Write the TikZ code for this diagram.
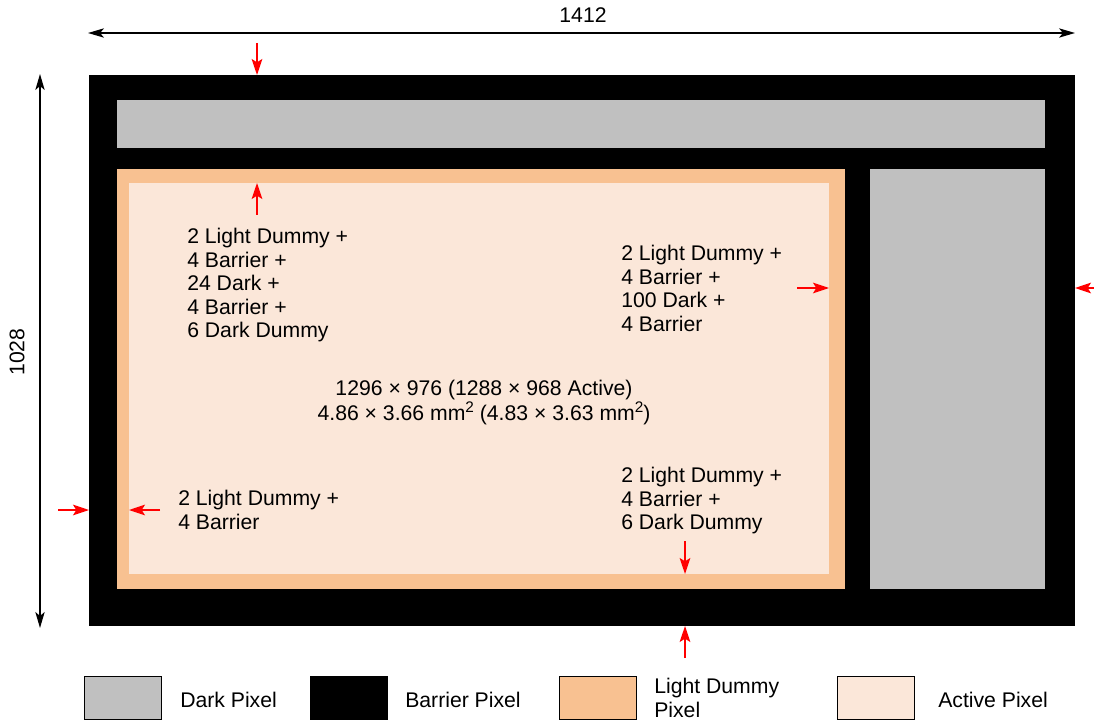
\documentclass[tikz,border=0pt]{standalone}
\usepackage{fontspec}
\setmainfont{Liberation Sans}
\usetikzlibrary{arrows.meta}
\definecolor{darkpx}{HTML}{C0C0C0}
\definecolor{dummypx}{HTML}{F8C191}
\definecolor{activepx}{HTML}{FBE7D9}
\definecolor{redarr}{HTML}{FF0000}
\newcommand{\sqsup}{\raisebox{0.42em}{\fontsize{11.5}{11.5}\selectfont 2}}
\begin{document}
\begin{tikzpicture}[x=0.75pt,y=-0.75pt,
  redarrow/.style={draw=redarr, line width=1.2pt, -{Stealth[length=12pt,width=8pt,inset=2.5pt]}},
  dimarrow/.style={draw=black, line width=1.1pt, {Stealth[length=12pt,width=7pt,inset=3pt]}-{Stealth[length=12pt,width=7pt,inset=3pt]}},
  lbl/.style={font=\fontsize{15.9}{17.6}\selectfont, inner sep=0pt, align=left, anchor=north west},
  legtxt/.style={font=\fontsize{15.9}{17.6}\selectfont, inner sep=0pt, align=left, anchor=west},
  legbox/.style={draw=black, line width=0.7pt}
]
\useasboundingbox (0,0) rectangle (1094,723);

% regions
\fill[black] (89,75) rectangle (1075,626);
\fill[darkpx] (117,100) rectangle (1045,148);
\fill[dummypx] (117,169) rectangle (845,589);
\fill[activepx] (129,183) rectangle (829,574);
\fill[darkpx] (870,169) rectangle (1045,589);

% dimension arrows
\coordinate (hl) at (88,33);
\coordinate (hr) at (1075,33);
\coordinate (vt) at (40,74);
\coordinate (vb) at (40,628);
\draw[dimarrow] (hl) -- (hr);
\draw[dimarrow] (vt) -- (vb);
\node[font=\fontsize{15.9}{17.6}\selectfont, inner sep=0pt] (w) at (583,15) {1412};
\node[font=\fontsize{15.9}{17.6}\selectfont, inner sep=0pt, rotate=90] (h) at (17,352) {1028};

% red arrows
\coordinate (a1s) at (257,43);  \coordinate (a1e) at (257,75);
\coordinate (a2s) at (257,215); \coordinate (a2e) at (257,183);
\coordinate (a3s) at (797,288); \coordinate (a3e) at (829,288);
\coordinate (a4s) at (1094,288); \coordinate (a4e) at (1075,288);
\coordinate (a5s) at (58,510);  \coordinate (a5e) at (89,510);
\coordinate (a6s) at (160,510); \coordinate (a6e) at (129,510);
\coordinate (a7s) at (685,541); \coordinate (a7e) at (685,574);
\coordinate (a8s) at (685,658); \coordinate (a8e) at (685,626);
\draw[redarrow] (a1s) -- (a1e);
\draw[redarrow] (a2s) -- (a2e);
\draw[redarrow] (a3s) -- (a3e);
\draw[redarrow] (a4s) -- (a4e);
\draw[redarrow] (a5s) -- (a5e);
\draw[redarrow] (a6s) -- (a6e);
\draw[redarrow] (a7s) -- (a7e);
\draw[redarrow] (a8s) -- (a8e);

% labels
\node[lbl] (t1) at (187,228) {2 Light Dummy +\\4 Barrier +\\24 Dark +\\4 Barrier +\\6 Dark Dummy};
\node[lbl] (t2) at (621,245) {2 Light Dummy +\\4 Barrier +\\100 Dark +\\4 Barrier};
\node[lbl] (t3) at (178,490) {2 Light Dummy +\\4 Barrier};
\node[lbl] (t4) at (621,467) {2 Light Dummy +\\4 Barrier +\\6 Dark Dummy};
\node[lbl, align=center, anchor=north] (tc) at (484,380) {1296 × 976 (1288 × 968 Active)\\4.86 × 3.66 mm\sqsup{} (4.83 × 3.63 mm\sqsup)};

% legend
\draw[legbox, fill=darkpx] (84,676) rectangle (161,719);
\draw[legbox, fill=black] (310,676) rectangle (387,719);
\draw[legbox, fill=dummypx] (559,676) rectangle (636,719);
\draw[legbox, fill=activepx] (837,676) rectangle (914,719);
\node[legtxt] (l1) at (180,700) {Dark Pixel};
\node[legtxt] (l2) at (405,700) {Barrier Pixel};
\node[legtxt] (l3) at (654,698) {Light Dummy\\Pixel};
\node[legtxt] (l4) at (938,700) {Active Pixel};
\end{tikzpicture}
\end{document}
